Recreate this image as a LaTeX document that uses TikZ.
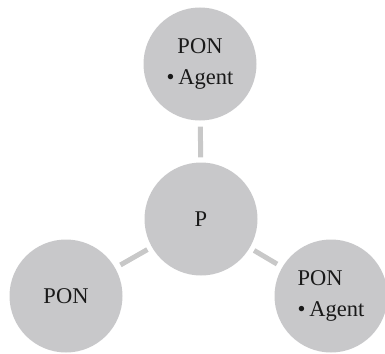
\documentclass[tikz,border=0pt]{standalone}
\usepackage{fontspec}
\setmainfont{Liberation Serif}
\definecolor{bubble}{RGB}{200,200,202}
\definecolor{linkc}{RGB}{200,200,200}
\begin{document}
\begin{tikzpicture}[x=1pt,y=-1pt,
  bub/.style={circle, fill=bubble, minimum size=113pt, inner sep=0pt,
    font=\fontsize{22.5}{31}\selectfont, text=black!90, align=center},
  conn/.style={draw=linkc, line width=5pt, shorten <=5pt, shorten >=6pt}]
\useasboundingbox (0,0) rectangle (385,353);
\node[bub] (top) at (200,64) {PON\\\textbullet\,Agent};
\node[bub] (p) at (201,219) {P};
\node[bub] (bl) at (66,296) {PON};
\node[bub, align=left] (br) at (331,296) {PON\\\textbullet\,Agent};
\draw[conn] (p) -- (top);
\draw[conn] (p) -- (bl);
\draw[conn] (p) -- (br);
\end{tikzpicture}
\end{document}
